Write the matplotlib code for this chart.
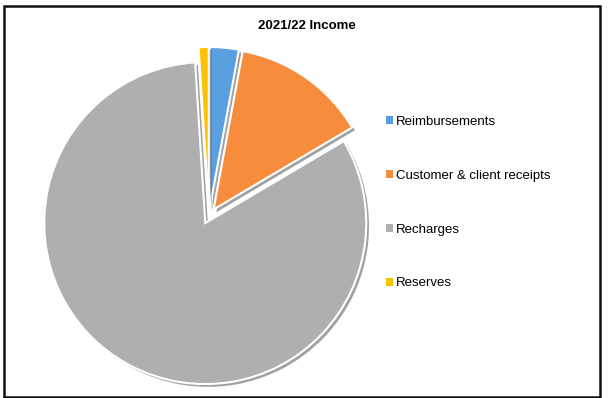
import matplotlib
matplotlib.use("Agg")
import matplotlib.pyplot as plt
import matplotlib.patheffects as pe
from matplotlib.patches import Rectangle

plt.rcParams['font.family'] = ['Liberation Sans', 'DejaVu Sans']

title = "2021/22 Income"
categories = ["Reimbursements", "Customer & client receipts", "Recharges", "Reserves"]
values = [2.9, 13.6, 82.5, 1.0]
colors = ["#5A9FE0", "#F78C3C", "#AFAFAF", "#FFC000"]

W, H = 611, 398
fig = plt.figure(figsize=(W / 100, H / 100), dpi=100)
ax = fig.add_axes([0, 0, 1, 1])

radius = 161
explode = [8] * len(values)  # data units (pixels) here
wedges, _ = ax.pie(values, colors=colors, startangle=90, counterclock=False,
                   center=(209, H - 216), radius=radius, explode=explode,
                   wedgeprops=dict(linewidth=1.5, edgecolor="white"))
for w in wedges:
    w.set_path_effects([pe.SimplePatchShadow(offset=(2, -2), shadow_rgbFace="#444444", alpha=0.5),
                        pe.Normal()])

ax.set_xlim(0, W)
ax.set_ylim(0, H)
ax.set_aspect('equal')
ax.axis('off')

# chart frame
ax.add_patch(Rectangle((4, 1), 596, H - 7, fill=False, edgecolor="#111111", linewidth=1.8))

ax.text(307, H - 26, title, ha="center", va="center", fontsize=9.5, fontweight="bold")

leg = ax.legend(wedges, categories, loc="upper left", bbox_to_anchor=(386 / W, (H - 116) / H),
                frameon=False, fontsize=9.5, handlelength=0.55, handleheight=0.55,
                handletextpad=0.2, labelspacing=3.17, borderpad=0, borderaxespad=0)
for h in leg.legend_handles:
    h.set_path_effects([])
    h.set_linewidth(0)

fig.savefig("out.png", dpi=100)
